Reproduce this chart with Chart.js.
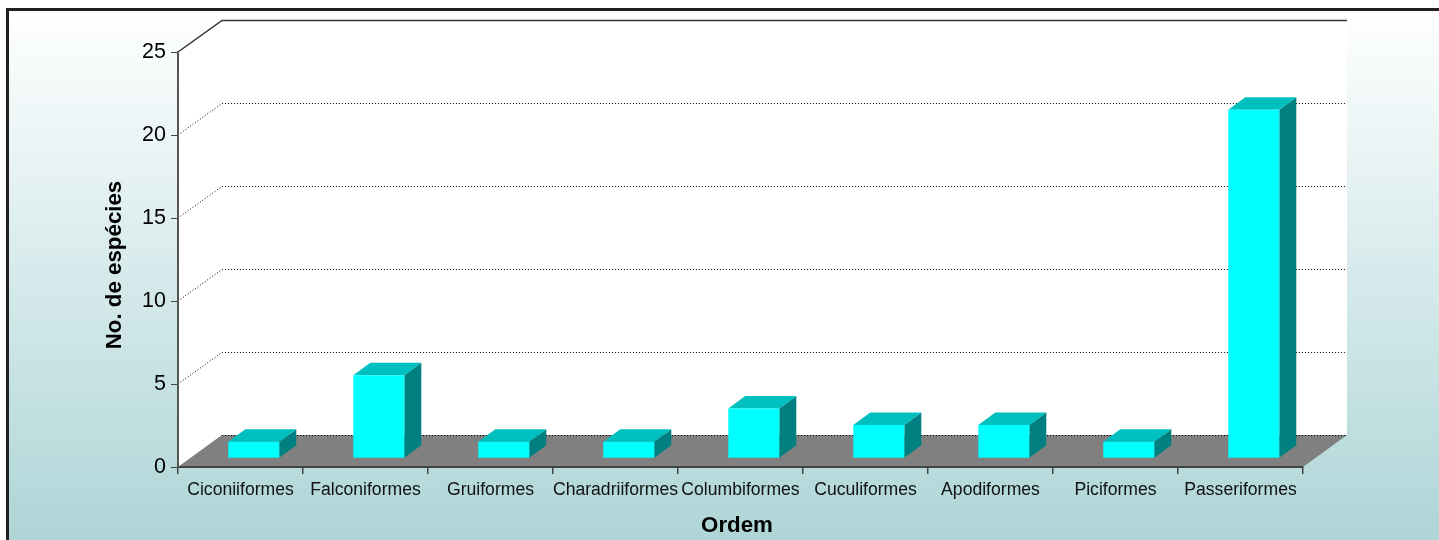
<!DOCTYPE html>
<html>
<head>
<meta charset="utf-8">
<title>No. de espécies por ordem</title>
<script src="https://cdn.jsdelivr.net/npm/chart.js@4"></script>
<style>
  html, body { margin: 0; padding: 0; background: #fff; }
  canvas { display: block; }
</style>
</head>
<body>
<canvas id="chart" width="1439" height="540"></canvas>
<script>
const categorias = ['Ciconiiformes', 'Falconiformes', 'Gruiformes', 'Charadriiformes', 'Columbiformes', 'Cuculiformes', 'Apodiformes', 'Piciformes', 'Passeriformes'];
const especies = [1, 5, 1, 1, 3, 2, 2, 1, 21];
const yTicks = [0, 5, 10, 15, 20, 25];
const tituloX = 'Ordem';
const tituloY = 'No. de espécies';

const fonte = '"Liberation Sans", Arial, sans-serif';

// depth of the fake 3d box and of the bars
const wallX = 44, wallY = -32;
const barShiftX = 13.3, barShiftY = -8.7;
const barDepthX = 17, barDepthY = -12.5;

const poly = function (ctx, pts, color) {
  ctx.beginPath();
  ctx.moveTo(pts[0][0], pts[0][1]);
  for (const p of pts.slice(1)) ctx.lineTo(p[0], p[1]);
  ctx.closePath();
  ctx.fillStyle = color;
  ctx.fill();
};

const box3d = {
  id: 'box3d',
  beforeDraw(chart) {
    const ctx = chart.ctx;
    const y = chart.scales.y;
    const a = chart.chartArea;
    const top = y.getPixelForValue(yTicks[yTicks.length - 1]);
    const bottom = y.getPixelForValue(0);

    ctx.save();
    // page background with the dark frame
    const grad = ctx.createLinearGradient(0, 9, 0, 540);
    grad.addColorStop(0, '#ffffff');
    grad.addColorStop(1, '#aed5d7');
    ctx.fillStyle = '#ffffff';
    ctx.fillRect(0, 0, chart.width, chart.height);
    ctx.fillStyle = grad;
    ctx.fillRect(7, 9, chart.width - 7, chart.height - 9);
    ctx.fillStyle = '#231f20';
    ctx.fillRect(6, 8, chart.width - 6, 3);
    ctx.fillRect(6, 8, 3, chart.height - 8);

    // walls
    poly(ctx, [[a.left, top], [a.left + wallX, top + wallY], [a.right + wallX, top + wallY], [a.right + wallX, bottom + wallY], [a.left + wallX, bottom + wallY], [a.left, bottom]], '#ffffff');
    // floor
    poly(ctx, [[a.left, bottom], [a.left + wallX, bottom + wallY], [a.right + wallX, bottom + wallY], [a.right, bottom]], '#808080');

    // dotted grid on the walls
    for (const t of yTicks) {
      const py = y.getPixelForValue(t);
      const backY = Math.floor(py + wallY) + 0.5;
      const last = t === yTicks[yTicks.length - 1];
      ctx.setLineDash(last ? [] : [1, 2]);
      ctx.lineWidth = last ? 1.5 : 1;
      ctx.strokeStyle = last ? '#333333' : '#000000';
      ctx.beginPath();
      if (t !== 0) {
        ctx.moveTo(a.left, py);
      } else {
        ctx.moveTo(a.left + wallX, backY);
      }
      ctx.lineTo(a.left + wallX, backY);
      ctx.lineTo(a.right + wallX, backY);
      ctx.stroke();
    }
    ctx.restore();
  },
  beforeDatasetsDraw(chart) {
    const ctx = chart.ctx;
    ctx.save();
    // everything in the dataset layer sits a bit inside the box
    ctx.translate(barShiftX, barShiftY);
    for (const bar of chart.getDatasetMeta(0).data) {
      const r = bar.x + bar.width / 2;
      const l = bar.x - bar.width / 2;
      poly(ctx, [[r, bar.y], [r + barDepthX, bar.y + barDepthY], [r + barDepthX, bar.base + barDepthY], [r, bar.base]], '#008080');
      poly(ctx, [[l, bar.y], [l + barDepthX, bar.y + barDepthY], [r + barDepthX, bar.y + barDepthY], [r, bar.y]], '#00bfbf');
    }
  },
  afterDatasetsDraw(chart) {
    chart.ctx.restore();
  },
  afterDraw(chart) {
    // axis titles sit off centre in the original, so placed by hand
    const ctx = chart.ctx;
    ctx.save();
    ctx.fillStyle = '#000000';
    ctx.font = 'bold 22.3px ' + fonte;
    ctx.textAlign = 'center';
    ctx.textBaseline = 'middle';
    ctx.fillText(tituloX, 737, 526);
    ctx.translate(115, 265);
    ctx.rotate(-Math.PI / 2);
    ctx.fillText(tituloY, 0, 0);
    ctx.restore();
  }
};

new Chart(document.getElementById('chart'), {
  type: 'bar',
  data: {
    labels: categorias,
    datasets: [{
      data: especies,
      backgroundColor: '#00ffff',
      borderWidth: 0,
      barPercentage: 0.408,
      categoryPercentage: 1,
      clip: false
    }]
  },
  options: {
    responsive: false,
    animation: false,
    layout: { padding: { top: 52, right: 136, bottom: 0, left: 0 } },
    plugins: { legend: { display: false }, title: { display: false }, tooltip: { enabled: false } },
    scales: {
      x: {
        afterFit(scale) { scale.height = 73; },
        grid: { drawOnChartArea: false, drawTicks: true, tickLength: 7, color: '#444444', lineWidth: 1.5 },
        border: { color: '#444444', width: 2 },
        ticks: { autoSkip: false, maxRotation: 0, color: '#111111', padding: 6, font: { family: fonte, size: 17.6 } }
      },
      y: {
        min: yTicks[0],
        max: yTicks[yTicks.length - 1],
        afterFit(scale) { scale.width = 178; },
        grid: { drawOnChartArea: false, drawTicks: true, tickLength: 7, color: '#444444' },
        border: { color: '#555555', width: 2 },
        ticks: { stepSize: 5, color: '#000000', padding: 5, font: { family: fonte, size: 21.5 } }
      }
    }
  },
  plugins: [box3d]
});
</script>
</body>
</html>
